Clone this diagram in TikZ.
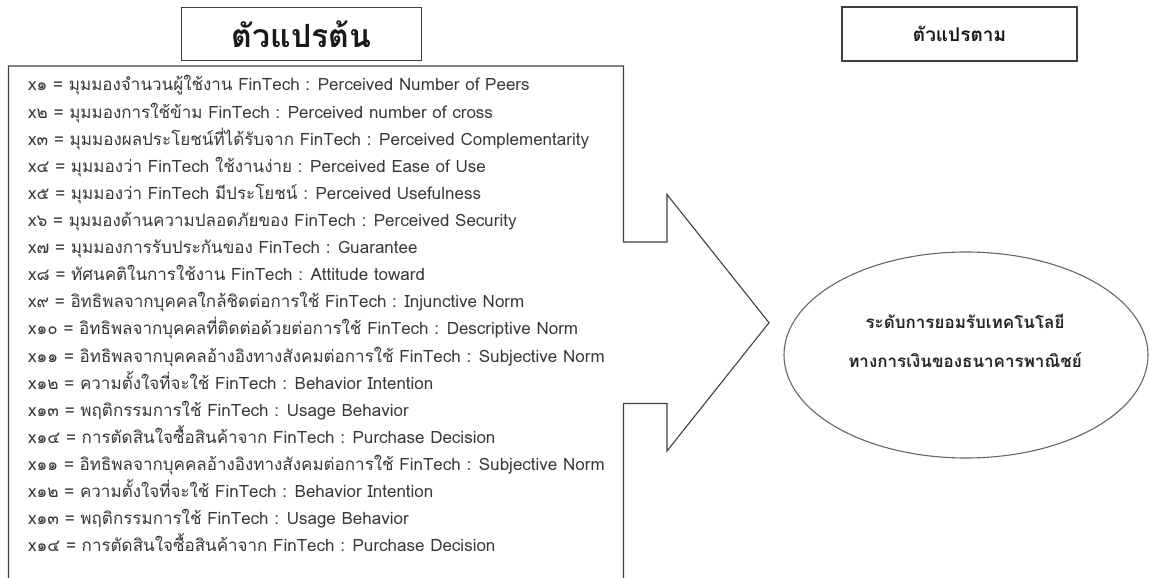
\documentclass[tikz,border=0pt]{standalone}
\usepackage{fontspec}
\usetikzlibrary{shapes.geometric}
\newfontfamily\thai[Script=Thai]{Loma}
\definecolor{linegray}{gray}{0.25}
\definecolor{txtgray}{gray}{0.22}
\begin{document}
\begin{tikzpicture}[x=1pt,y=-1pt,
  titlebox/.style={draw=linegray, line width=1.2pt, inner sep=0pt, text=black!90},
  itemtext/.style={anchor=base west, inner sep=0pt, text=txtgray, font=\thai\fontsize{17}{20}\selectfont},
  frame/.style={draw=linegray, line width=1.1pt, line join=miter},
  dvshape/.style={draw=black!60, line width=1.1pt, ellipse, inner sep=0pt}]
\useasboundingbox (0,0) rectangle (1149,578);
\clip (0,0) rectangle (1149,578);
% titles
\node[titlebox, minimum width=240pt, minimum height=53pt,
      font=\thai\bfseries\fontsize{32}{36}\selectfont] (iv) at (301.5,34) {\raisebox{-2pt}{ตัวแปรต้น}};
\node[titlebox, minimum width=235pt, minimum height=54pt,
      font=\thai\bfseries\fontsize{19}{22}\selectfont] (dvt) at (959.5,34) {ตัวแปรตาม};
% list frame with arrow
\draw[frame] (8.5,590) -- (8.5,66) -- (623.5,66) -- (623.5,242) -- (667,242) -- (667,194.5)
  -- (769,322.7) -- (667,451) -- (667,403.5) -- (623.5,403.5) -- (623.5,590);
% items
\foreach \t [count=\i] in {
 x๑ = มุมมองจำนวนผู้ใช้งาน FinTech : Perceived Number of Peers,
 x๒ = มุมมองการใช้ข้าม FinTech : Perceived number of cross,
 x๓ = มุมมองผลประโยชน์ที่ได้รับจาก FinTech : Perceived Complementarity,
 x๔ = มุมมองว่า FinTech ใช้งานง่าย : Perceived Ease of Use,
 x๕ = มุมมองว่า FinTech มีประโยชน์ : Perceived Usefulness,
 x๖ = มุมมองด้านความปลอดภัยของ FinTech : Perceived Security,
 x๗ = มุมมองการรับประกันของ FinTech : Guarantee,
 x๘ = ทัศนคติในการใช้งาน FinTech : Attitude toward,
 x๙ = อิทธิพลจากบุคคลใกล้ชิดต่อการใช้ FinTech : Injunctive Norm,
 x๑๐ = อิทธิพลจากบุคคลที่ติดต่อด้วยต่อการใช้ FinTech : Descriptive Norm,
 x๑๑ = อิทธิพลจากบุคคลอ้างอิงทางสังคมต่อการใช้ FinTech : Subjective Norm,
 x๑๒ = ความตั้งใจที่จะใช้ FinTech : Behavior Intention,
 x๑๓ = พฤติกรรมการใช้ FinTech : Usage Behavior,
 x๑๔ = การตัดสินใจซื้อสินค้าจาก FinTech : Purchase Decision,
 x๑๑ = อิทธิพลจากบุคคลอ้างอิงทางสังคมต่อการใช้ FinTech : Subjective Norm,
 x๑๒ = ความตั้งใจที่จะใช้ FinTech : Behavior Intention,
 x๑๓ = พฤติกรรมการใช้ FinTech : Usage Behavior,
 x๑๔ = การตัดสินใจซื้อสินค้าจาก FinTech : Purchase Decision}
{ \node[itemtext] (v\i) at (28,{91+27.1*(\i-1)}) {\t}; }
% dependent variable
\node[dvshape, minimum width=364pt, minimum height=206pt] (dv) at (966,355) {};
\node[align=center, inner sep=0pt, text=black!85,
      font=\thai\bfseries\fontsize{17}{39}\selectfont] (dvtext) at (965,341)
  {ระดับการยอมรับเทคโนโลยี\\ทางการเงินของธนาคารพาณิชย์};
\end{tikzpicture}
\end{document}
